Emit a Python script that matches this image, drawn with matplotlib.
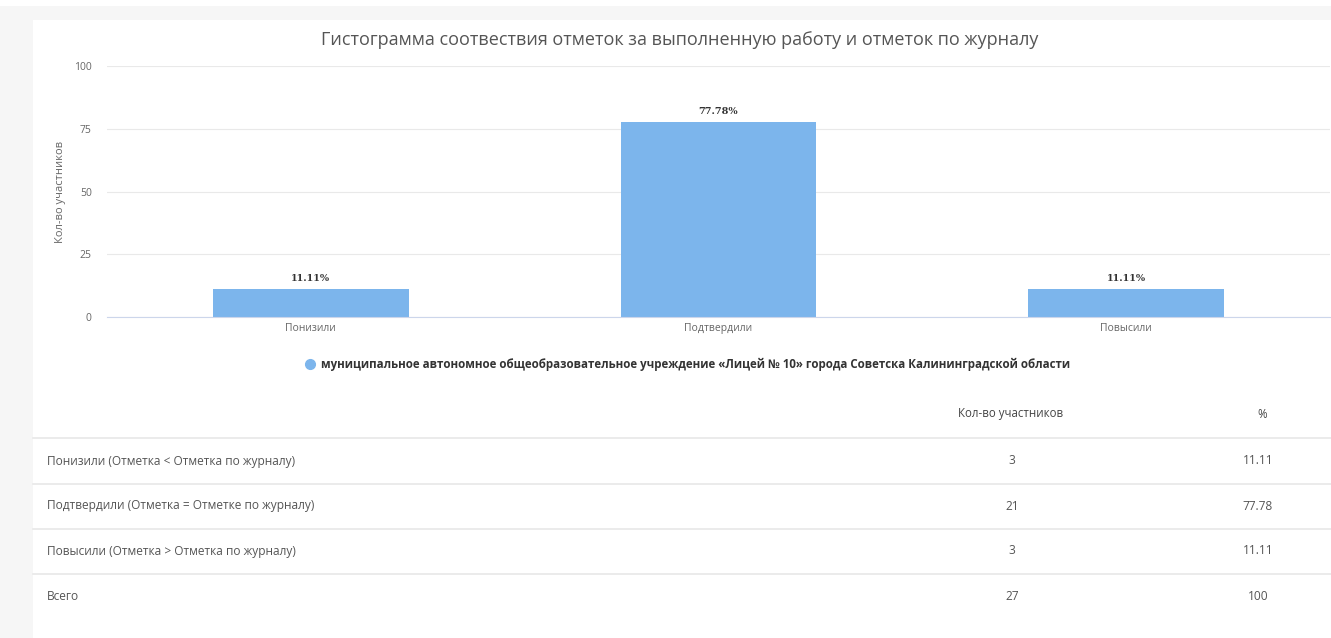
import numpy as np
import matplotlib.pyplot as plt
from matplotlib.patches import Rectangle

plt.rcParams['font.family'] = ['Open Sans', 'DejaVu Sans']

# chart data
categories = ['Понизили', 'Подтвердили', 'Повысили']
percents = [11.11, 77.78, 11.11]
yticks = [0, 25, 50, 75, 100]
title = 'Гистограмма соотвествия отметок за выполненную работу и отметок по журналу'
ylabel = 'Кол-во участников'
legend_label = ('муниципальное автономное общеобразовательное учреждение '
                '«Лицей № 10» города Советска Калининградской области')

# table data
row_names = ['Понизили (Отметка < Отметка по журналу)',
             'Подтвердили (Отметка = Отметке по журналу)',
             'Повысили (Отметка > Отметка по журналу)',
             'Всего']
counts = ['3', '21', '3', '27']
pct_text = ['11.11', '77.78', '11.11', '100']
col_headers = ['Кол-во участников', '%']

W, H = 1331, 638
fig = plt.figure(figsize=(W/100, H/100), dpi=100)
fig.patch.set_facecolor('#f6f6f6')

def fx(px): return px / W
def fy(py): return 1 - py / H

# white panel + white strip on top
fig.add_artist(Rectangle((fx(33), 0), 1 - fx(33), fy(20), transform=fig.transFigure,
                         facecolor='white', edgecolor='none', zorder=0))
fig.add_artist(Rectangle((0, fy(6)), 1, 1 - fy(6), transform=fig.transFigure,
                         facecolor='white', edgecolor='none', zorder=0))

# bar chart
ax = fig.add_axes([fx(107), fy(317), fx(1330) - fx(107), fy(66) - fy(317)])
ax.set_facecolor('none')
x = np.arange(len(categories))
bars = ax.bar(x, percents, width=0.48, color='#7cb5ec', zorder=2)
ax.set_xlim(-0.5, len(categories) - 0.5)
ax.set_ylim(0, 100)
ax.set_yticks(yticks)
ax.set_yticklabels([str(t) for t in yticks])
ax.set_xticks(x)
ax.set_xticklabels(categories)
ax.tick_params(axis='both', length=0, labelsize=7.5, labelcolor='#666666')
ax.tick_params(axis='y', pad=11)
ax.tick_params(axis='x', pad=4)
ax.grid(axis='y', color='#e9e9e9', linewidth=0.8, zorder=0)
for s in ['top', 'right', 'left']:
    ax.spines[s].set_visible(False)
ax.spines['bottom'].set_color('#ccd6eb')
ax.spines['bottom'].set_linewidth(0.8)
ax.set_ylabel(ylabel, fontsize=8, color='#666666', labelpad=6)
for b, p in zip(bars, percents):
    ax.annotate(f'{p:.2f}%', (b.get_x() + b.get_width()/2, b.get_height()),
                xytext=(0, 4.5), textcoords='offset points', ha='center', va='bottom',
                fontsize=7, fontweight='bold', color='#333333', family='DejaVu Serif')

fig.text(fx(680), fy(40), title, ha='center', va='center', fontsize=13, color='#555555')

# legend
fig.add_artist(plt.Line2D([fx(310)], [fy(364)], marker='o', markersize=7,
                          color='#7cb5ec', transform=fig.transFigure))
fig.text(fx(321), fy(364), legend_label, ha='left', va='center', fontsize=8.3,
         fontweight='bold', color='#333333')

# table
fig.text(fx(1011), fy(414), col_headers[0], ha='center', va='center', fontsize=8.3, color='#444444')
fig.text(fx(1262), fy(414), col_headers[1], ha='center', va='center', fontsize=8.3, color='#444444')
line_y = [438, 484, 529, 574]
row_y = [461, 506, 551, 597]
for ly in line_y:
    fig.add_artist(plt.Line2D([fx(33), 1], [fy(ly), fy(ly)], color='#e8e8e8',
                              linewidth=1.2, transform=fig.transFigure))
for name, c, p, ry in zip(row_names, counts, pct_text, row_y):
    fig.text(fx(47), fy(ry), name, ha='left', va='center', fontsize=8.6, color='#555555')
    fig.text(fx(1012), fy(ry), c, ha='center', va='center', fontsize=8.6, color='#555555')
    fig.text(fx(1258), fy(ry), p, ha='center', va='center', fontsize=8.6, color='#555555')

fig.savefig('out.png', dpi=100, facecolor=fig.get_facecolor())
